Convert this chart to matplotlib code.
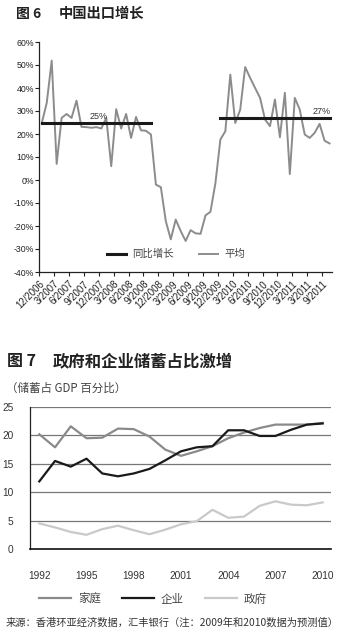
import matplotlib
matplotlib.use("Agg")
import matplotlib.pyplot as plt

W, H = 350, 637

# 图6 中国出口同比增长（%），2006年12月起按月
export_growth = [24.8, 33.5, 51.9, 7.0, 27.0, 28.7, 27.0, 34.5, 23.1, 23.0,
                 22.7, 23.0, 22.4, 27.0, 6.0, 30.8, 22.4, 28.7, 18.3, 27.4,
                 21.6, 21.4, 19.8, -2.0, -3.1, -17.9, -25.8, -17.2, -22.2, -26.5,
                 -21.8, -23.2, -23.4, -15.4, -13.8, -1.4, 17.6, 21.2, 45.8, 24.8,
                 30.6, 49.1, 44.4, 40.0, 35.7, 26.3, 23.4, 35.0, 18.6, 37.9,
                 2.6, 35.7, 30.6, 19.8, 18.3, 20.5, 24.4, 17.1, 15.9]
avg1_value, avg1_span = 25, (0, 22)
avg2_value, avg2_span = 27, (36, 58)
month_labels = ["12/2006", "3/2007", "6/2007", "9/2007", "12/2007", "3/2008",
                "6/2008", "9/2008", "12/2008", "3/2009", "6/2009", "9/2009",
                "12/2009", "3/2010", "6/2010", "9/2010", "12/2010", "3/2011",
                "3/2011", "9/2011"]

# 图7 储蓄占GDP百分比
years = list(range(1992, 2011))
household = [20.2, 17.9, 21.6, 19.5, 19.6, 21.2, 21.1, 19.8, 17.5, 16.4,
             17.2, 18.1, 19.5, 20.5, 21.3, 21.9, 21.9, 21.9, 22.2]
enterprise = [11.9, 15.5, 14.5, 15.9, 13.3, 12.8, 13.3, 14.1, 15.6, 17.2,
              17.9, 18.1, 20.9, 20.9, 19.9, 19.9, 21.0, 21.9, 22.1]
government = [4.5, 3.8, 3.0, 2.5, 3.5, 4.1, 3.3, 2.6, 3.4, 4.35,
              4.9, 6.9, 5.5, 5.7, 7.6, 8.4, 7.8, 7.7, 8.2]

CJK = ["Noto Sans CJK SC", "DejaVu Sans"]
plt.rcParams["font.family"] = ["Liberation Sans", "Noto Sans CJK SC"]


def box(left, top, right, bottom):
    return [left / W, 1 - bottom / H, (right - left) / W, (bottom - top) / H]


def fx(x):
    return x / W


def fy(y):
    return 1 - y / H


fig = plt.figure(figsize=(W / 100, H / 100), dpi=100)

# ---- 图6 ----
fig.text(fx(16), fy(14), "图 6", family=CJK, fontsize=10, weight="bold",
         va="center", color="#222222")
fig.text(fx(59), fy(14), "中国出口增长", family=CJK, fontsize=10.3, weight="bold",
         va="center", color="#222222")

ax1 = fig.add_axes(box(39.3, 42, 332, 272))
xs = [i + 0.5 for i in range(len(export_growth))]
ax1.plot(xs, export_growth, color="#8c8c8c", lw=1.4, label="平均", zorder=2)
ax1.plot([avg1_span[0] + 0.5, avg1_span[1] + 0.5], [avg1_value] * 2,
         color="#1a1a1a", lw=2.2, label="同比增长", zorder=3)
ax1.plot([avg2_span[0] + 0.5, avg2_span[1] + 0.5], [avg2_value] * 2,
         color="#1a1a1a", lw=2.2, zorder=3)
ax1.text(12, avg1_value + 0.8, "%d%%" % avg1_value, fontsize=6.5, ha="center",
         va="bottom", color="#333333")
ax1.text(57, avg2_value + 0.8, "%d%%" % avg2_value, fontsize=6.5, ha="center",
         va="bottom", color="#333333")

ax1.set_xlim(0, 59)
ax1.set_ylim(-40, 60)
ax1.set_yticks(range(-40, 61, 10))
ax1.set_yticklabels(["%d%%" % v for v in range(-40, 61, 10)])
ax1.set_xticks(range(0, 58, 3))
ax1.set_xticklabels(month_labels, rotation=45, ha="right", rotation_mode="anchor")
for s in ["top", "right"]:
    ax1.spines[s].set_visible(False)
for s in ["left", "bottom"]:
    ax1.spines[s].set_color("#222222")
    ax1.spines[s].set_linewidth(0.9)
ax1.tick_params(axis="y", length=3, width=0.8, pad=1, labelsize=6.3,
                colors="#222222")
ax1.tick_params(axis="x", length=3, width=0.8, pad=2, labelsize=6.9,
                colors="#222222")

h, l = ax1.get_legend_handles_labels()
ax1.legend(h[::-1], l[::-1], loc="center", bbox_to_anchor=(fx(176), fy(254)),
           bbox_transform=fig.transFigure, ncol=2, frameon=False,
           prop={"family": CJK, "size": 7.5}, handlelength=1.8,
           columnspacing=2.5, handletextpad=0.6, labelcolor="#444444")

# ---- 图7 ----
fig.text(fx(7), fy(361), "图 7", family=CJK, fontsize=11.5, weight="bold",
         va="center", color="#222222")
fig.text(fx(53), fy(361), "政府和企业储蓄占比激增", family=CJK, fontsize=11.8,
         weight="bold", va="center", color="#222222")
fig.text(fx(6), fy(388), "（储蓄占 GDP 百分比）", family=CJK, fontsize=8.3,
         va="center", color="#444444")

ax2 = fig.add_axes(box(30, 407, 331, 549))
ax2.plot(years, household, color="#8a8a8a", lw=1.6, label="家庭")
ax2.plot(years, enterprise, color="#1a1a1a", lw=1.6, label="企业")
ax2.plot(years, government, color="#c9c9c9", lw=1.6, label="政府")
ax2.set_xlim(1991.41, 2010.53)
ax2.set_ylim(0, 25)
ax2.set_yticks(range(0, 26, 5))
ax2.set_xticks(range(1992, 2011, 3))
ax2.grid(axis="y", color="#777777", lw=0.9)
ax2.set_axisbelow(True)
for s in ["top", "right"]:
    ax2.spines[s].set_visible(False)
ax2.spines["left"].set_color("#222222")
ax2.spines["bottom"].set_color("#111111")
ax2.spines["left"].set_linewidth(0.9)
ax2.spines["bottom"].set_linewidth(1.2)
ax2.tick_params(axis="y", length=0, pad=12, labelsize=7.3, colors="#333333")
ax2.tick_params(axis="x", length=0, pad=16, labelsize=7.3, colors="#333333")

ax2.legend(loc="center", bbox_to_anchor=(fx(153), fy(599)),
           bbox_transform=fig.transFigure, ncol=3, frameon=False,
           prop={"family": CJK, "size": 8.3}, handlelength=2.8,
           columnspacing=1.8, handletextpad=0.6, labelcolor="#444444")

fig.text(fx(6), fy(623), "来源：香港环亚经济数据，汇丰银行（注：2009年和2010数据为预测值）",
         family=CJK, fontsize=7.4, va="center", color="#333333")

fig.savefig("out.png", dpi=100)
